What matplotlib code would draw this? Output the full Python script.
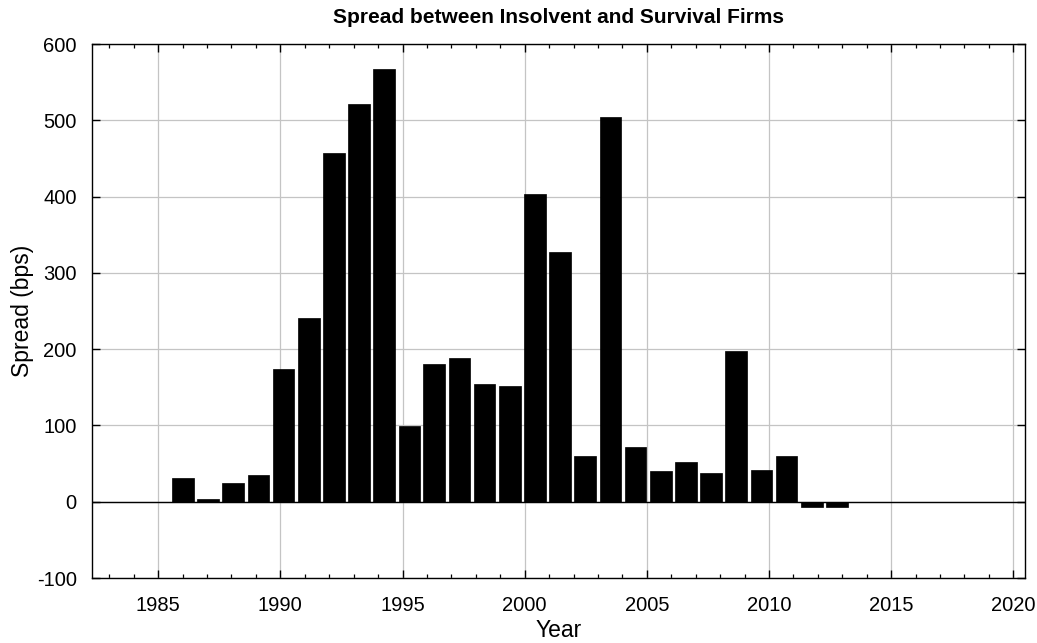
import matplotlib
matplotlib.use("Agg")
import matplotlib.pyplot as plt
from matplotlib.ticker import MultipleLocator

plt.rcParams['font.family'] = ['Liberation Sans', 'DejaVu Sans']
plt.rcParams['axes.unicode_minus'] = False

# Bar positions (in year units)
years = [1986.01, 1987.04, 1988.07, 1989.10, 1990.13, 1991.16, 1992.19,
         1993.22, 1994.25, 1995.28, 1996.30, 1997.33, 1998.36, 1999.39,
         2000.42, 2001.45, 2002.48, 2003.51, 2004.54, 2005.57, 2006.60,
         2007.63, 2008.66, 2009.69, 2010.72, 2011.75, 2012.78]
spread = [31, 3, 25, 35, 174, 241, 457, 522, 567, 99, 180, 188, 154, 152,
          404, 327, 60, 504, 72, 40, 52, 37, 197, 41, 60, -7, -7]

x_ticks = [1985, 1990, 1995, 2000, 2005, 2010, 2015, 2020]
y_ticks = [-100, 0, 100, 200, 300, 400, 500, 600]

fig = plt.figure(figsize=(10.37, 6.43), dpi=100)
ax = fig.add_axes([92/1037, 1 - 578/643, (1025-92)/1037, (578-44)/643])

ax.bar(years, spread, width=0.885, color='black', edgecolor='black',
       linewidth=0.5, zorder=3)
ax.axhline(0, color='black', linewidth=1.0, zorder=4)

ax.set_xlim(1982.29, 2020.48)
ax.set_ylim(-100, 600)
ax.set_xticks(x_ticks)
ax.set_yticks(y_ticks)
ax.xaxis.set_minor_locator(MultipleLocator(1))

ax.grid(True, which='major', color='#c4c4c4', linewidth=0.9, zorder=0)
ax.set_axisbelow(True)

ax.tick_params(axis='both', which='both', direction='in', top=True, right=True,
               labelsize=14.5, colors='black')
ax.tick_params(axis='both', which='major', length=6, width=1.0)
ax.tick_params(axis='x', which='minor', length=3, width=0.9)
ax.tick_params(axis='x', which='major', pad=13)
ax.tick_params(axis='y', which='major', pad=11)

for s in ax.spines.values():
    s.set_linewidth(1.0)
    s.set_color('black')

ax.set_title('Spread between Insolvent and Survival Firms', fontsize=15,
             fontweight='bold', pad=15)
ax.set_xlabel('Year', fontsize=16.5, labelpad=3)
ax.set_ylabel('Spread (bps)', fontsize=16.5, labelpad=2)

fig.savefig('out.png', dpi=100)
